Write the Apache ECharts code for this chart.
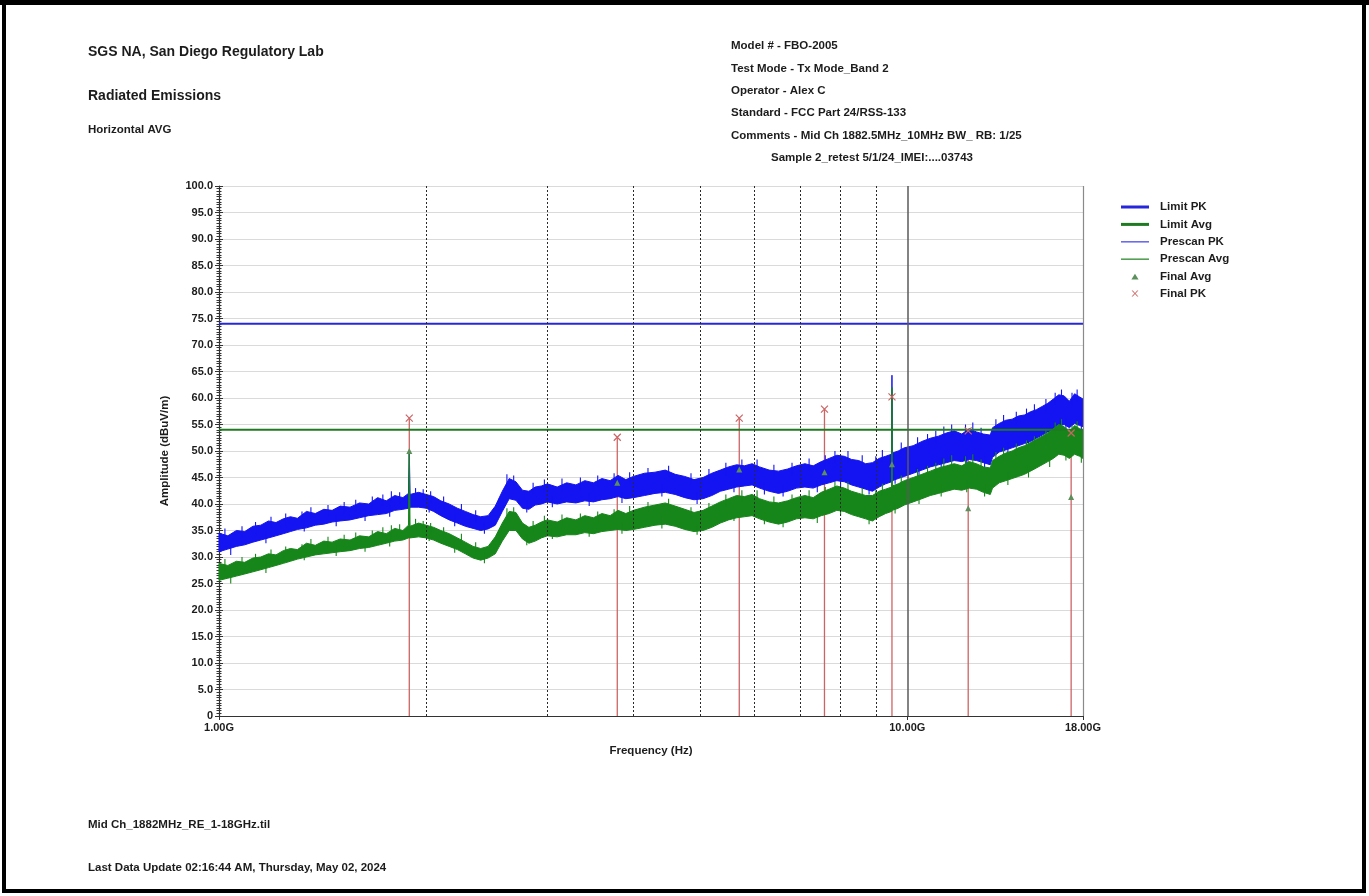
<!DOCTYPE html>
<html>
<head>
<meta charset="utf-8">
<script src="https://cdn.jsdelivr.net/npm/echarts@6/dist/echarts.min.js"></script>
<style>
  html, body { margin: 0; padding: 0; background: #fff; }
  #chart { width: 1369px; height: 896px; }
</style>
</head>
<body>
<div id="chart"></div>
<script>
// Prescan sweep frequencies (GHz) and the low/high envelope of each noisy trace (dBuV/m)
const freqGHz = [
  1.00, 1.03, 1.06, 1.09, 1.12, 1.15, 1.18, 1.21, 1.24, 1.27,
  1.30, 1.34, 1.38, 1.42, 1.46, 1.50, 1.55, 1.60, 1.65, 1.70,
  1.75, 1.80, 1.85, 1.885, 1.89, 1.895, 1.95, 2.00, 2.05, 2.10,
  2.16, 2.22, 2.28, 2.34, 2.40, 2.46, 2.52, 2.58, 2.64, 2.70,
  2.76, 2.82, 2.88, 2.94, 3.00, 3.10, 3.20, 3.30, 3.40, 3.50,
  3.60, 3.70, 3.80, 3.90, 4.00, 4.15, 4.30, 4.45, 4.60, 4.75,
  4.90, 5.05, 5.20, 5.35, 5.50, 5.65, 5.80, 5.95, 6.10, 6.30,
  6.50, 6.70, 6.90, 7.10, 7.30, 7.50, 7.70, 7.90, 8.10, 8.30,
  8.50, 8.70, 8.90, 9.10, 9.30, 9.49, 9.50, 9.51, 9.70, 9.90,
  10.2, 10.5, 10.8, 11.1, 11.4, 11.7, 12.0, 12.3, 12.6, 12.9,
  13.2, 13.3, 13.6, 13.9, 14.2, 14.5, 14.8, 15.1, 15.4, 15.7,
  16.0, 16.3, 16.6, 16.9, 17.2, 17.5, 17.8, 18.0
];
const pkHigh = [
  34.5, 34.0, 35.0, 34.8, 35.8, 36.0, 36.8, 36.5, 37.2, 37.6,
  37.3, 38.6, 38.2, 39.0, 38.8, 39.6, 39.4, 40.2, 40.0, 41.2,
  40.6, 41.6, 41.2, 42.0, 50.0, 41.8, 42.2, 41.8, 41.4, 40.6,
  40.0, 39.2, 38.6, 38.0, 37.6, 37.8, 39.6, 42.4, 44.8, 44.2,
  42.6, 42.4, 43.2, 43.4, 43.8, 43.2, 44.0, 43.6, 44.4, 44.0,
  44.8, 44.4, 45.4, 44.6, 45.2, 45.8, 46.0, 46.4, 45.6, 45.2,
  44.6, 45.0, 45.8, 46.4, 47.0, 47.4, 47.2, 47.6, 47.0, 46.4,
  46.2, 46.6, 47.2, 47.6, 47.2, 48.0, 48.6, 49.2, 49.0, 48.4,
  48.2, 47.6, 47.8, 48.6, 49.0, 49.4, 64.3, 49.6, 50.0, 50.6,
  51.0, 51.8, 52.4, 52.8, 53.4, 53.8, 53.2, 54.2, 53.6, 53.2,
  53.0, 54.4, 55.2, 55.8, 56.0, 56.6, 56.8, 57.4, 57.8, 58.4,
  59.0, 59.8, 60.6, 60.4, 59.4, 60.8, 60.2, 59.8
];
const pkLow = [
  31.0, 31.5, 32.0, 32.3, 32.8, 33.2, 33.6, 34.0, 34.4, 34.8,
  35.2, 35.5, 36.0, 36.2, 36.6, 36.8, 37.0, 37.4, 37.8, 38.0,
  38.2, 38.8, 39.0, 39.2, 39.0, 39.4, 39.4, 39.2, 38.6, 37.8,
  37.0, 36.4, 35.8, 35.4, 35.0, 35.3, 36.0, 38.6, 41.0, 40.7,
  39.2, 39.0, 39.8, 40.0, 40.4, 40.0, 40.4, 40.2, 40.6, 40.4,
  40.8, 41.0, 41.4, 41.0, 41.2, 41.6, 42.0, 42.2, 41.8, 41.2,
  40.8, 41.0, 41.6, 42.4, 42.8, 43.2, 43.4, 43.6, 43.0, 42.4,
  42.0, 42.4, 43.0, 43.2, 43.0, 43.6, 44.0, 44.4, 44.2, 43.6,
  43.2, 42.8, 42.4, 43.2, 43.8, 44.2, 44.2, 44.4, 44.8, 45.2,
  45.8, 46.4, 47.0, 47.4, 47.8, 48.2, 48.0, 48.4, 48.2, 47.8,
  47.4, 48.8, 49.8, 50.2, 50.6, 51.0, 51.4, 51.8, 52.4, 53.0,
  53.6, 54.2, 54.8, 55.0, 54.4, 55.2, 54.8, 54.6
];
const avgHigh = [
  28.8, 28.4, 29.2, 29.0, 29.8, 30.0, 30.6, 30.4, 31.2, 31.6,
  31.4, 32.6, 32.2, 33.0, 32.8, 33.4, 33.2, 34.0, 33.8, 34.8,
  34.4, 35.4, 35.0, 36.0, 50.0, 35.8, 36.4, 36.0, 35.6, 35.0,
  34.4, 33.6, 32.8, 32.0, 31.6, 32.0, 33.8, 36.4, 38.6, 38.4,
  36.4, 35.6, 36.0, 36.6, 37.0, 36.6, 37.4, 37.0, 37.8, 37.4,
  38.2, 37.8, 38.8, 38.2, 38.8, 39.4, 39.8, 40.2, 39.6, 39.0,
  38.4, 38.8, 39.6, 40.4, 41.0, 41.6, 41.4, 41.8, 41.0, 40.4,
  40.2, 40.6, 41.2, 41.6, 41.2, 42.2, 42.8, 43.4, 43.0, 42.4,
  42.0, 41.6, 41.6, 42.4, 42.8, 43.2, 62.0, 43.4, 43.8, 44.4,
  45.0, 45.6, 46.2, 46.8, 47.2, 47.6, 47.2, 48.0, 47.6, 47.0,
  46.8, 48.2, 49.0, 49.6, 50.0, 50.6, 51.0, 51.6, 52.2, 52.8,
  53.4, 54.2, 55.0, 54.6, 53.6, 54.8, 54.2, 53.8
];
const avgLow = [
  25.6, 26.0, 26.4, 26.8, 27.2, 27.6, 28.0, 28.4, 28.8, 29.2,
  29.6, 30.0, 30.4, 30.6, 30.8, 31.0, 31.2, 31.6, 31.8, 32.2,
  32.6, 33.0, 33.2, 33.6, 33.6, 33.6, 33.8, 33.6, 33.2, 32.6,
  32.0, 31.4, 30.6, 29.8, 29.4, 29.8, 30.6, 33.0, 35.0, 35.0,
  33.4, 32.6, 33.0, 33.6, 34.0, 33.8, 34.2, 34.2, 34.6, 34.4,
  34.8, 35.0, 35.2, 35.0, 35.2, 35.6, 36.0, 36.2, 35.8, 35.2,
  34.8, 35.0, 35.6, 36.4, 37.0, 37.4, 37.6, 37.8, 37.2, 36.6,
  36.2, 36.6, 37.2, 37.4, 37.2, 37.8, 38.2, 38.8, 38.6, 38.0,
  37.6, 37.2, 36.8, 37.6, 38.2, 38.6, 38.6, 38.8, 39.2, 39.8,
  40.4, 41.0, 41.6, 42.0, 42.4, 42.8, 42.6, 43.0, 42.8, 42.2,
  41.8, 43.0, 44.0, 44.4, 44.8, 45.2, 45.6, 46.2, 46.8, 47.4,
  48.0, 48.6, 49.4, 49.2, 48.6, 49.4, 49.0, 48.6
];

// Isolated noise spikes sticking out of each trace: [GHz, dBuV/m]
const pkSpikesUp = [
  [1.02, 35.4], [1.08, 35.8], [1.13, 36.6], [1.19, 37.6], [1.25, 38.2], [1.32, 38.6], [1.36, 39.4],
  [1.44, 39.8], [1.52, 40.4], [1.58, 40.8], [1.67, 41.4], [1.73, 41.8], [1.78, 42.4], [1.83, 42.2],
  [1.93, 43.0], [1.98, 42.8], [2.03, 42.4], [2.12, 41.4], [2.25, 40.0], [2.36, 38.8], [2.55, 41.0],
  [2.62, 45.6], [2.68, 45.4], [2.86, 44.0], [2.97, 44.6], [3.15, 44.8], [3.35, 45.0], [3.55, 45.4],
  [3.75, 45.8], [3.95, 46.0], [4.2, 46.8], [4.5, 47.2], [4.85, 45.8], [5.15, 46.6], [5.45, 47.8],
  [5.75, 48.4], [6.05, 48.4], [6.4, 47.4], [6.8, 47.8], [7.2, 48.6], [7.6, 49.2], [7.85, 50.0],
  [8.2, 50.0], [8.6, 49.2], [9.0, 49.0], [9.2, 50.2], [9.8, 51.6], [10.35, 52.6], [10.7, 53.2],
  [11.0, 53.8], [11.3, 54.6], [11.6, 55.0], [12.15, 55.0], [12.45, 55.4], [12.8, 54.4], [13.45, 56.0],
  [13.8, 56.8], [14.4, 57.4], [14.9, 58.0], [15.3, 58.8], [15.9, 59.8], [16.4, 61.0], [16.75, 61.6],
  [17.35, 61.0], [17.65, 61.6]
];
const pkSpikesDown = [
  [1.04, 30.4], [1.17, 32.6], [1.33, 34.8], [1.48, 35.8], [1.63, 36.8], [1.77, 37.6], [2.02, 38.4],
  [2.2, 35.8], [2.43, 34.4], [2.8, 38.4], [3.05, 39.4], [3.45, 39.6], [3.85, 40.2], [4.4, 41.4],
  [4.95, 40.0], [5.6, 42.2], [6.2, 41.8], [6.6, 41.4], [7.4, 42.2], [8.0, 43.4], [8.8, 41.8],
  [9.6, 43.8], [10.4, 45.4], [11.2, 46.6], [12.2, 47.2], [12.95, 46.8], [14.0, 49.4], [15.0, 50.8],
  [16.1, 52.8], [17.0, 54.0], [17.9, 53.8]
];
const avgSpikesUp = [
  [1.02, 29.6], [1.08, 30.0], [1.13, 30.6], [1.19, 31.4], [1.25, 32.0], [1.32, 32.4], [1.36, 33.4],
  [1.44, 33.8], [1.52, 34.2], [1.58, 34.6], [1.67, 35.0], [1.73, 35.6], [1.78, 36.0], [1.83, 36.2],
  [1.93, 37.2], [1.98, 36.8], [2.03, 36.4], [2.12, 35.6], [2.25, 34.4], [2.36, 32.8], [2.55, 35.0],
  [2.62, 39.2], [2.68, 39.4], [2.86, 36.8], [2.97, 37.8], [3.15, 38.0], [3.35, 38.2], [3.55, 38.6],
  [3.75, 39.0], [3.95, 39.6], [4.2, 40.4], [4.5, 41.0], [4.85, 39.4], [5.15, 40.2], [5.45, 41.8],
  [5.75, 42.6], [6.05, 42.6], [6.4, 41.4], [6.8, 41.8], [7.2, 42.6], [7.6, 43.2], [7.85, 44.2],
  [8.2, 44.2], [8.6, 43.0], [9.0, 42.6], [9.2, 43.8], [9.8, 45.4], [10.35, 46.6], [10.7, 47.2],
  [11.0, 47.8], [11.3, 48.6], [11.6, 49.2], [12.15, 49.0], [12.45, 49.4], [12.8, 48.4], [13.45, 49.8],
  [13.8, 50.6], [14.4, 51.4], [14.9, 52.0], [15.3, 52.8], [15.9, 54.0], [16.4, 55.4], [16.75, 56.0],
  [17.35, 54.8], [17.65, 55.6]
];
const avgSpikesDown = [
  [1.04, 25.0], [1.17, 27.0], [1.33, 29.4], [1.48, 30.2], [1.63, 31.0], [1.77, 32.0], [2.02, 33.0],
  [2.2, 30.8], [2.43, 28.8], [2.8, 32.2], [3.05, 33.4], [3.45, 33.8], [3.85, 34.4], [4.4, 35.4],
  [4.95, 34.2], [5.6, 36.8], [6.2, 36.2], [6.6, 35.6], [7.4, 36.4], [8.0, 37.8], [8.8, 36.2],
  [9.6, 38.2], [10.4, 40.0], [11.2, 41.4], [12.2, 42.2], [12.95, 41.4], [14.0, 43.6], [15.0, 45.0],
  [16.1, 47.0], [17.0, 48.2], [17.9, 47.8]
];

// Limits (dBuV/m)
const limitPk = 74.0;
const limitAvg = 54.0;

// Final measurements
const finalFreqGHz = [1.89, 3.79, 5.70, 7.58, 9.50, 12.26, 17.3];
const finalPk = [56.2, 52.6, 56.2, 57.9, 60.2, 53.8, 53.4];
const finalAvg = [50.0, 44.0, 46.5, 46.0, 47.5, 39.2, 41.3];

// Axis marks
const gridFreqGHz = [2, 3, 4, 5, 6, 7, 8, 9];
const decadeFreqGHz = [10];
const xLabelValues = [1, 10, 18];
const fMin = 1, fMax = 18;

const FONT = '"Liberation Sans", Arial, sans-serif';
const TXT = '#1c1c1c';

const C_LIMIT_PK = '#2626dc';
const C_LIMIT_AVG = '#1f7a22';
const C_PRE_PK = '#1414f2';
const C_PRE_AVG = '#17861a';
const C_FINAL_PK = '#cc6464';
const C_FINAL_AVG = '#5c8f5c';

const chart = echarts.init(document.getElementById('chart'), null, { renderer: 'canvas' });

// Filled envelope of a prescan trace
function bandSeries(name, hi, lo, color, z) {
  return {
    type: 'custom',
    name: name,
    z: z,
    coordinateSystem: 'cartesian2d',
    data: freqGHz.map((f, i) => [f, lo[i], hi[i]]),
    encode: { x: 0, y: [1, 2] },
    itemStyle: { color: color },
    silent: true,
    renderItem: function (params, api) {
      if (params.dataIndex !== 0) return null;
      const top = freqGHz.map((f, i) => api.coord([f, hi[i]]));
      const bottom = freqGHz.map((f, i) => api.coord([f, lo[i]])).reverse();
      return {
        type: 'polygon',
        shape: { points: top.concat(bottom) },
        style: { fill: color, stroke: color, lineWidth: 1 }
      };
    }
  };
}

// Thin spikes poking out of a trace envelope (dir = +1 upward, -1 downward)
function spikeSeries(name, pairs, dir, color, z) {
  return {
    type: 'custom',
    name: name,
    z: z,
    silent: true,
    data: pairs,
    encode: { x: 0, y: 1 },
    renderItem: function (params, api) {
      const f = api.value(0), v = api.value(1);
      const p1 = api.coord([f, v]);
      const p0 = api.coord([f, v - dir * 2.2]);
      return {
        type: 'line',
        shape: { x1: p0[0], y1: p0[1], x2: p1[0], y2: p1[1] },
        style: { stroke: color, lineWidth: 1.1 }
      };
    }
  };
}

const textLines = [
  { t: 'SGS NA, San Diego Regulatory Lab', x: 88, y: 52, s: 14 },
  { t: 'Radiated Emissions', x: 88, y: 96, s: 14 },
  { t: 'Horizontal AVG', x: 88, y: 130, s: 11.5 },
  { t: 'Model # - FBO-2005', x: 731, y: 46, s: 11.5 },
  { t: 'Test Mode - Tx Mode_Band 2', x: 731, y: 69, s: 11.5 },
  { t: 'Operator - Alex C', x: 731, y: 91, s: 11.5 },
  { t: 'Standard - FCC Part 24/RSS-133', x: 731, y: 113, s: 11.5 },
  { t: 'Comments - Mid Ch 1882.5MHz_10MHz BW_ RB: 1/25', x: 731, y: 136, s: 11.5 },
  { t: 'Sample 2_retest 5/1/24_IMEI:....03743', x: 771, y: 158, s: 11.5 },
  { t: 'Mid Ch_1882MHz_RE_1-18GHz.til', x: 88, y: 825, s: 11.5 },
  { t: 'Last Data Update 02:16:44 AM, Thursday, May 02, 2024', x: 88, y: 868, s: 11.5 }
];

const graphics = textLines.map(l => ({
  type: 'text', x: l.x, y: l.y, silent: true,
  style: { text: l.t, font: 'bold ' + l.s + 'px ' + FONT, fill: TXT, verticalAlign: 'middle', textAlign: 'left' }
}));
// page frame
graphics.push(
  { type: 'rect', shape: { x: 0, y: 0, width: 1369, height: 5 }, style: { fill: '#000' }, silent: true },
  { type: 'rect', shape: { x: 2, y: 0, width: 4, height: 893 }, style: { fill: '#000' }, silent: true },
  { type: 'rect', shape: { x: 1362, y: 0, width: 4, height: 893 }, style: { fill: '#000' }, silent: true },
  { type: 'rect', shape: { x: 2, y: 889, width: 1364, height: 4 }, style: { fill: '#000' }, silent: true }
);

const lineIcon = (h) => 'path://M0,0M34,14M0,' + (7 - h / 2) + 'H28V' + (7 + h / 2) + 'H0Z';
const triIcon = 'path://M0,0M34,14M14,4.2L17.6,9.8L10.4,9.8Z';
const crossIcon = 'path://M0,0M34,14M10.6,3.6L11.8,3.6L14,5.9L16.2,3.6L17.4,3.6L14.6,6.5L17.4,9.4L16.2,9.4L14,7.1L11.8,9.4L10.6,9.4L13.4,6.5Z';

const option = {
  animation: false,
  backgroundColor: '#ffffff',
  textStyle: { fontFamily: FONT },
  grid: { left: 219, right: 286, top: 186, bottom: 180, containLabel: false },
  legend: {
    orient: 'vertical',
    left: 1116,
    top: 195,
    itemWidth: 34,
    itemHeight: 14,
    itemGap: 3.4,
    selectedMode: false,
    textStyle: { fontFamily: FONT, fontWeight: 'bold', fontSize: 11.5, color: TXT },
    data: [
      { name: 'Limit PK', icon: lineIcon(3), itemStyle: { color: C_LIMIT_PK, borderWidth: 0 } },
      { name: 'Limit Avg', icon: lineIcon(3), itemStyle: { color: C_LIMIT_AVG, borderWidth: 0 } },
      { name: 'Prescan PK', icon: lineIcon(1.6), itemStyle: { color: '#6b6bf0', borderWidth: 0 } },
      { name: 'Prescan Avg', icon: lineIcon(1.6), itemStyle: { color: '#55a055', borderWidth: 0 } },
      { name: 'Final Avg', icon: triIcon, itemStyle: { color: C_FINAL_AVG, borderWidth: 0 } },
      { name: 'Final PK', icon: crossIcon, itemStyle: { color: C_FINAL_PK, borderWidth: 0 } }
    ]
  },
  xAxis: {
    type: 'log',
    logBase: 10,
    min: fMin,
    max: fMax,
    name: 'Frequency (Hz)',
    nameLocation: 'middle',
    nameGap: 29,
    nameTextStyle: { fontFamily: FONT, fontWeight: 'bold', fontSize: 11.5, color: TXT },
    axisLine: { show: true, onZero: false, lineStyle: { color: '#333', width: 1.2 } },
    axisTick: { show: true, length: 4, customValues: xLabelValues, lineStyle: { color: '#333' } },
    axisLabel: {
      customValues: xLabelValues,
      margin: 6,
      fontFamily: FONT, fontWeight: 'bold', fontSize: 11, color: TXT,
      formatter: v => Number(v).toFixed(2) + 'G'
    },
    splitLine: { show: false },
    minorTick: { show: false },
    minorSplitLine: { show: false }
  },
  yAxis: [
    {
      type: 'value',
      min: 0, max: 100, interval: 5,
      name: 'Amplitude (dBuV/m)',
      nameLocation: 'middle',
      nameGap: 48,
      nameTextStyle: { fontFamily: FONT, fontWeight: 'bold', fontSize: 11.5, color: TXT },
      axisLine: { show: true, lineStyle: { color: '#333', width: 1.2 } },
      axisTick: { show: true, length: 4, lineStyle: { color: '#333' } },
      minorTick: { show: true, splitNumber: 10, length: 2.5, lineStyle: { color: '#333' } },
      axisLabel: {
        margin: 6,
        fontFamily: FONT, fontWeight: 'bold', fontSize: 11, color: TXT,
        formatter: v => (v === 0 ? '0' : v.toFixed(1))
      },
      splitLine: { show: true, lineStyle: { color: '#dadada', width: 1 } }
    },
    {
      type: 'value',
      min: 0, max: 100, interval: 5,
      position: 'left',
      axisLine: { show: false },
      axisTick: { show: true, inside: true, length: 4, lineStyle: { color: '#333' } },
      minorTick: { show: true, splitNumber: 10, length: 2.5, lineStyle: { color: '#333' } },
      axisLabel: { show: false },
      splitLine: { show: false }
    }
  ],
  graphic: graphics,
  series: [
    {
      // vertical stems of the final peak readings, plus frequency reference lines
      type: 'custom',
      name: 'Final PK stems',
      z: 1,
      silent: true,
      data: finalFreqGHz.map((f, i) => [f, finalPk[i]]),
      encode: { x: 0, y: 1 },
      renderItem: function (params, api) {
        const f = api.value(0);
        const p0 = api.coord([f, 0]);
        const p1 = api.coord([f, api.value(1)]);
        return {
          type: 'line',
          shape: { x1: p0[0], y1: p0[1], x2: p1[0], y2: p1[1] },
          style: { stroke: C_FINAL_PK, lineWidth: 1.3 }
        };
      },
      markLine: {
        silent: true,
        symbol: 'none',
        label: { show: false },
        data: gridFreqGHz.map(f => ({ xAxis: f, lineStyle: { type: [2, 2], color: '#2a2a2a', width: 1 } }))
          .concat(decadeFreqGHz.map(f => ({ xAxis: f, lineStyle: { type: 'solid', color: '#5a5a5a', width: 1.5 } })))
          .concat([{ xAxis: fMax, lineStyle: { type: 'solid', color: '#8a8a8a', width: 1.2 } }])
      }
    },
    bandSeries('Prescan PK', pkHigh, pkLow, C_PRE_PK, 2),
    spikeSeries('Prescan PK spikes up', pkSpikesUp, 1, C_PRE_PK, 2),
    spikeSeries('Prescan PK spikes down', pkSpikesDown, -1, C_PRE_PK, 2),
    bandSeries('Prescan Avg', avgHigh, avgLow, C_PRE_AVG, 3),
    spikeSeries('Prescan Avg spikes up', avgSpikesUp, 1, C_PRE_AVG, 3),
    spikeSeries('Prescan Avg spikes down', avgSpikesDown, -1, C_PRE_AVG, 3),
    {
      type: 'line',
      name: 'Limit PK',
      z: 4,
      silent: true,
      symbol: 'none',
      data: [[fMin, limitPk], [fMax, limitPk]],
      lineStyle: { color: C_LIMIT_PK, width: 2 },
      itemStyle: { color: C_LIMIT_PK }
    },
    {
      type: 'line',
      name: 'Limit Avg',
      z: 4,
      silent: true,
      symbol: 'none',
      data: [[fMin, limitAvg], [fMax, limitAvg]],
      lineStyle: { color: C_LIMIT_AVG, width: 2 },
      itemStyle: { color: C_LIMIT_AVG }
    },
    {
      type: 'scatter',
      name: 'Final Avg',
      z: 5,
      silent: true,
      symbol: 'triangle',
      symbolSize: 6,
      data: finalFreqGHz.map((f, i) => [f, finalAvg[i]]),
      itemStyle: { color: C_FINAL_AVG, opacity: 1 }
    },
    {
      type: 'scatter',
      name: 'Final PK',
      z: 5,
      silent: true,
      symbol: 'path://M0,0L10,10M10,0L0,10',
      symbolSize: 7,
      data: finalFreqGHz.map((f, i) => [f, finalPk[i]]),
      itemStyle: { color: 'transparent', borderColor: C_FINAL_PK, borderWidth: 1.2, opacity: 1 }
    }
  ]
};

chart.setOption(option);
</script>
</body>
</html>
